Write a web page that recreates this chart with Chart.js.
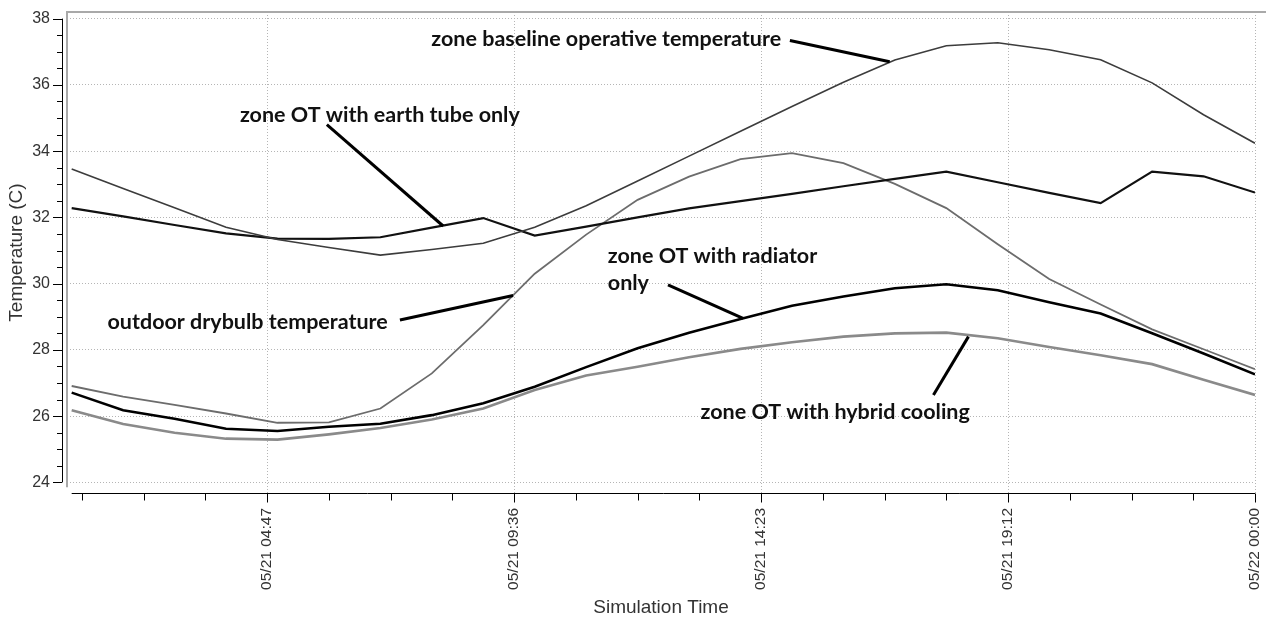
<!DOCTYPE html>
<html>
<head>
<meta charset="utf-8">
<script src="https://cdn.jsdelivr.net/npm/chart.js@4.4.1/dist/chart.umd.min.js"></script>
<style>
  html, body { margin: 0; padding: 0; background: #fff; }
  #wrap { width: 1271px; height: 619px; }
</style>
</head>
<body>
<div id="wrap"><canvas id="chart"></canvas></div>
<script>
// hourly simulation results, 05/21 01:00 .. 05/22 00:00 (hours)
const hours = [1, 2, 3, 4, 5, 6, 7, 8, 9, 10, 11, 12, 13, 14, 15, 16, 17, 18, 19, 20, 21, 22, 23, 24];

const baseline  = [33.46, 32.87, 32.29, 31.70, 31.33, 31.09, 30.86, 31.03, 31.22, 31.70, 32.35, 33.10,
                   33.85, 34.60, 35.35, 36.08, 36.75, 37.18, 37.27, 37.06, 36.76, 36.06, 35.10, 34.24];
const earthTube = [32.28, 32.03, 31.77, 31.52, 31.36, 31.35, 31.40, 31.69, 31.98, 31.45, 31.72, 32.00,
                   32.27, 32.49, 32.71, 32.94, 33.16, 33.38, 33.06, 32.74, 32.43, 33.38, 33.24, 32.75];
const outdoor   = [26.91, 26.59, 26.34, 26.08, 25.80, 25.81, 26.23, 27.29, 28.75, 30.30, 31.48, 32.53,
                   33.23, 33.76, 33.94, 33.64, 33.01, 32.28, 31.19, 30.14, 29.37, 28.62, 28.02, 27.42];
const radiator  = [26.71, 26.18, 25.92, 25.62, 25.55, 25.68, 25.77, 26.03, 26.39, 26.89, 27.48, 28.05,
                   28.52, 28.93, 29.33, 29.61, 29.86, 29.98, 29.80, 29.44, 29.10, 28.50, 27.89, 27.26];
const hybrid    = [26.18, 25.76, 25.50, 25.32, 25.29, 25.45, 25.64, 25.90, 26.23, 26.79, 27.23, 27.49,
                   27.78, 28.03, 28.23, 28.40, 28.50, 28.52, 28.35, 28.09, 27.84, 27.57, 27.10, 26.64];

// axis ticks
const tickHours  = [4.8, 9.6, 14.4, 19.2, 24];
const tickLabels = ['05/21 04:47', '05/21 09:36', '05/21 14:23', '05/21 19:12', '05/22 00:00'];
const yTicks     = [24, 26, 28, 30, 32, 34, 36, 38];

// callout labels (data coordinates)
const callouts = [
  { text: ['zone baseline operative temperature'], x: 11.39, y: 37.38, align: 'center', from: [14.96, 37.34], to: [16.9, 36.7] },
  { text: ['zone OT with earth tube only'], x: 6.99, y: 35.1, align: 'center', from: [5.96, 34.8], to: [8.22, 31.74] },
  { text: ['zone OT with radiator', 'only'], x: 11.42, y: 30.82, align: 'left', from: [12.59, 29.96], to: [14.05, 28.95] },
  { text: ['outdoor drybulb temperature'], x: 4.42, y: 28.85, align: 'center', from: [7.38, 28.9], to: [9.58, 29.64] },
  { text: ['zone OT with hybrid cooling'], x: 15.84, y: 26.13, align: 'center', from: [17.75, 26.64], to: [18.43, 28.4] }
];

function series(values) {
  return hours.map((h, i) => ({ x: h, y: values[i] }));
}

// рамка, оси с мелкими делениями и подписи-выноски
const overlay = {
  id: 'overlay',
  beforeDatasetsDraw(chart) {
    const { ctx, chartArea: a, scales: { x, y } } = chart;
    ctx.save();
    // серая рамка области графика
    ctx.strokeStyle = '#a9a9a9';
    ctx.lineWidth = 2;
    ctx.beginPath();
    ctx.moveTo(a.left, y.getPixelForValue(23.85));
    ctx.lineTo(a.left, a.top);
    ctx.lineTo(a.right + 11, a.top);
    ctx.stroke();

    ctx.strokeStyle = '#000';
    ctx.lineWidth = 1;
    // ось Y
    const yx = a.left - 5;
    ctx.beginPath();
    ctx.moveTo(yx + 0.5, y.getPixelForValue(38));
    ctx.lineTo(yx + 0.5, y.getPixelForValue(24));
    for (let v = 24; v <= 38.001; v += 0.5) {
      const py = Math.round(y.getPixelForValue(v)) + 0.5;
      const len = yTicks.includes(v) ? 9 : 5;
      ctx.moveTo(yx, py);
      ctx.lineTo(yx - len, py);
    }
    ctx.stroke();
    // ось X
    const xb = Math.round(a.bottom) + 0.5;
    ctx.beginPath();
    ctx.moveTo(x.getPixelForValue(1), xb);
    ctx.lineTo(x.getPixelForValue(24), xb);
    for (let t = 1.2; t <= 24.001; t += 1.2) {
      const px = Math.round(x.getPixelForValue(t)) + 0.5;
      const major = tickHours.some(v => Math.abs(v - t) < 0.01);
      ctx.moveTo(px, xb);
      ctx.lineTo(px, xb + (major ? 9 : 7));
    }
    ctx.stroke();
    ctx.restore();
  },
  afterDatasetsDraw(chart) {
    const { ctx, scales: { x, y } } = chart;
    ctx.save();
    ctx.font = 'bold 21.5px Lato';
    ctx.fillStyle = '#111';
    ctx.textBaseline = 'middle';
    ctx.strokeStyle = '#000';
    ctx.lineWidth = 3;
    callouts.forEach(c => {
      ctx.textAlign = c.align;
      c.text.forEach((line, i) => {
        ctx.fillText(line, x.getPixelForValue(c.x), y.getPixelForValue(c.y) + i * 27);
      });
      ctx.beginPath();
      ctx.moveTo(x.getPixelForValue(c.from[0]), y.getPixelForValue(c.from[1]));
      ctx.lineTo(x.getPixelForValue(c.to[0]), y.getPixelForValue(c.to[1]));
      ctx.stroke();
    });
    ctx.restore();
  }
};

const titleFont = { family: 'Liberation Sans', size: 19 };

new Chart(document.getElementById('chart'), {
  type: 'line',
  data: {
    datasets: [
      { label: 'zone baseline operative temperature', data: series(baseline), borderColor: '#3c3c3c', borderWidth: 1.6 },
      { label: 'zone OT with earth tube only', data: series(earthTube), borderColor: '#111', borderWidth: 2.2 },
      { label: 'outdoor drybulb temperature', data: series(outdoor), borderColor: '#6c6c6c', borderWidth: 1.8 },
      { label: 'zone OT with radiator only', data: series(radiator), borderColor: '#000', borderWidth: 2.6 },
      { label: 'zone OT with hybrid cooling', data: series(hybrid), borderColor: '#8a8a8a', borderWidth: 2.6 }
    ]
  },
  options: {
    responsive: true,
    maintainAspectRatio: false,
    animation: false,
    layout: { padding: { top: 12, right: 16, left: 0, bottom: 0 } },
    elements: { point: { radius: 0 }, line: { tension: 0 } },
    plugins: { legend: { display: false }, tooltip: { enabled: false } },
    scales: {
      x: {
        type: 'linear',
        min: 0.909,
        max: 24,
        afterBuildTicks: s => { s.ticks = tickHours.map(v => ({ value: v })); },
        afterFit: s => { s.height = 126; s.paddingLeft = 0; s.paddingRight = 0; },
        grid: { color: '#b5b5b5', drawTicks: false },
        border: { display: false, dash: [1, 2] },
        ticks: {
          minRotation: 90, maxRotation: 90, padding: 15, color: '#333',
          font: { family: 'Liberation Sans', size: 15.5 },
          callback: v => tickLabels[tickHours.findIndex(t => Math.abs(t - v) < 0.01)]
        },
        title: { display: true, text: 'Simulation Time', color: '#333', font: titleFont, padding: { top: 0, bottom: 0 } }
      },
      y: {
        min: 23.68,
        max: 38.2,
        afterBuildTicks: s => { s.ticks = yTicks.map(v => ({ value: v })); },
        afterFit: s => { s.width = 67; s.paddingTop = 0; s.paddingBottom = 0; },
        grid: { color: '#b5b5b5', drawTicks: false },
        border: { display: false, dash: [1, 2] },
        ticks: { padding: 17, color: '#333', font: { family: 'Liberation Sans', size: 16 } },
        title: { display: true, text: 'Temperature (C)', color: '#333', font: titleFont, padding: { top: 5, bottom: 0 } }
      }
    }
  },
  plugins: [overlay]
});
</script>
</body>
</html>
